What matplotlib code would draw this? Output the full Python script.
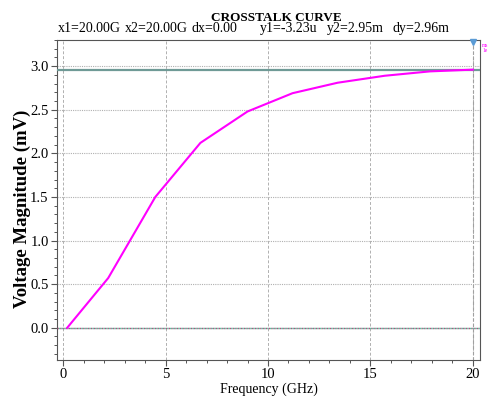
import matplotlib
matplotlib.use("Agg")
import matplotlib.pyplot as plt
from matplotlib.ticker import MultipleLocator, FormatStrFormatter

plt.rcParams['font.family'] = ['Liberation Serif', 'DejaVu Serif']

# crosstalk curve
freq_ghz = [0.2, 2.2, 4.5, 6.7, 9.0, 11.2, 13.4, 15.7, 17.9, 20.0]
volt_mv = [0.0, 0.57, 1.5, 2.12, 2.48, 2.69, 2.81, 2.89, 2.94, 2.96]

cursor_y = 2.96
cursor_x = 20.0
cursor_text = ["x1=20.00G", "x2=20.00G", "dx=0.00", "y1=-3.23u", "y2=2.95m", "dy=2.96m"]

fig = plt.figure(figsize=(4.89, 4.00), dpi=100)
ax = fig.add_axes([57/489, (400-360)/400, (480-57)/489, (360-40)/400])

ax.plot(freq_ghz, volt_mv, color='#ff00ff', lw=1.5, zorder=4)
ax.axhline(cursor_y, color='#6f9a96', lw=1.6, zorder=3)
ax.axhline(0, color='#b05080', lw=1.0, ls=(0, (1, 1)), zorder=3)
ax.axhline(0, color='#60c0a0', lw=1.0, ls=(1, (1, 1)), zorder=3)
ax.axvline(cursor_x, color='#a0a0a0', lw=0.8, ls=(0, (3, 2)), zorder=2)
ax.plot([cursor_x], [3.28], marker='v', color='#5b9bd5', ms=5, clip_on=False, zorder=5)

ax.set_xlim(-0.3, 20.35)
ax.set_ylim(-0.37, 3.30)
ax.xaxis.set_major_locator(MultipleLocator(5))
ax.xaxis.set_minor_locator(MultipleLocator(1))
ax.yaxis.set_major_locator(MultipleLocator(0.5))
ax.yaxis.set_minor_locator(MultipleLocator(0.1))
ax.yaxis.set_major_formatter(FormatStrFormatter('%.1f'))
ax.grid(True, which='major', axis='x', color='#b0b0b0', ls=(0, (3, 2)), lw=0.7)
ax.grid(True, which='major', axis='y', color='#b0b0b0', ls=(0, (1, 1)), lw=0.8)
ax.tick_params(labelsize=10.5, length=4, width=0.8, color='#555555', pad=2)
ax.tick_params(which='minor', length=2.5, width=0.7, color='#555555')
for s in ax.spines.values():
    s.set_color('#555555')

ax.set_xlabel("Frequency (GHz)", fontsize=10, labelpad=1)
ax.set_ylabel("Voltage Magnitude (mV)", fontsize=13.5, fontweight='bold')
ax.yaxis.set_label_coords(-0.062, 0.472)

xs = [58, 125, 192, 260, 327, 393]
for x, t in zip(xs, cursor_text):
    fig.text(x/489, 1 - 32/400, t, fontsize=10, ha='left', va='baseline')
fig.text(276/489, 1 - 21/400, "CROSSTALK CURVE", fontsize=9.5, fontweight='bold', ha='center', va='baseline')
fig.text(485/489, 1 - 48/400, "ms\n1e", fontsize=4, color='#ff00ff', ha='center', va='center')

fig.savefig("out.png", dpi=100)
